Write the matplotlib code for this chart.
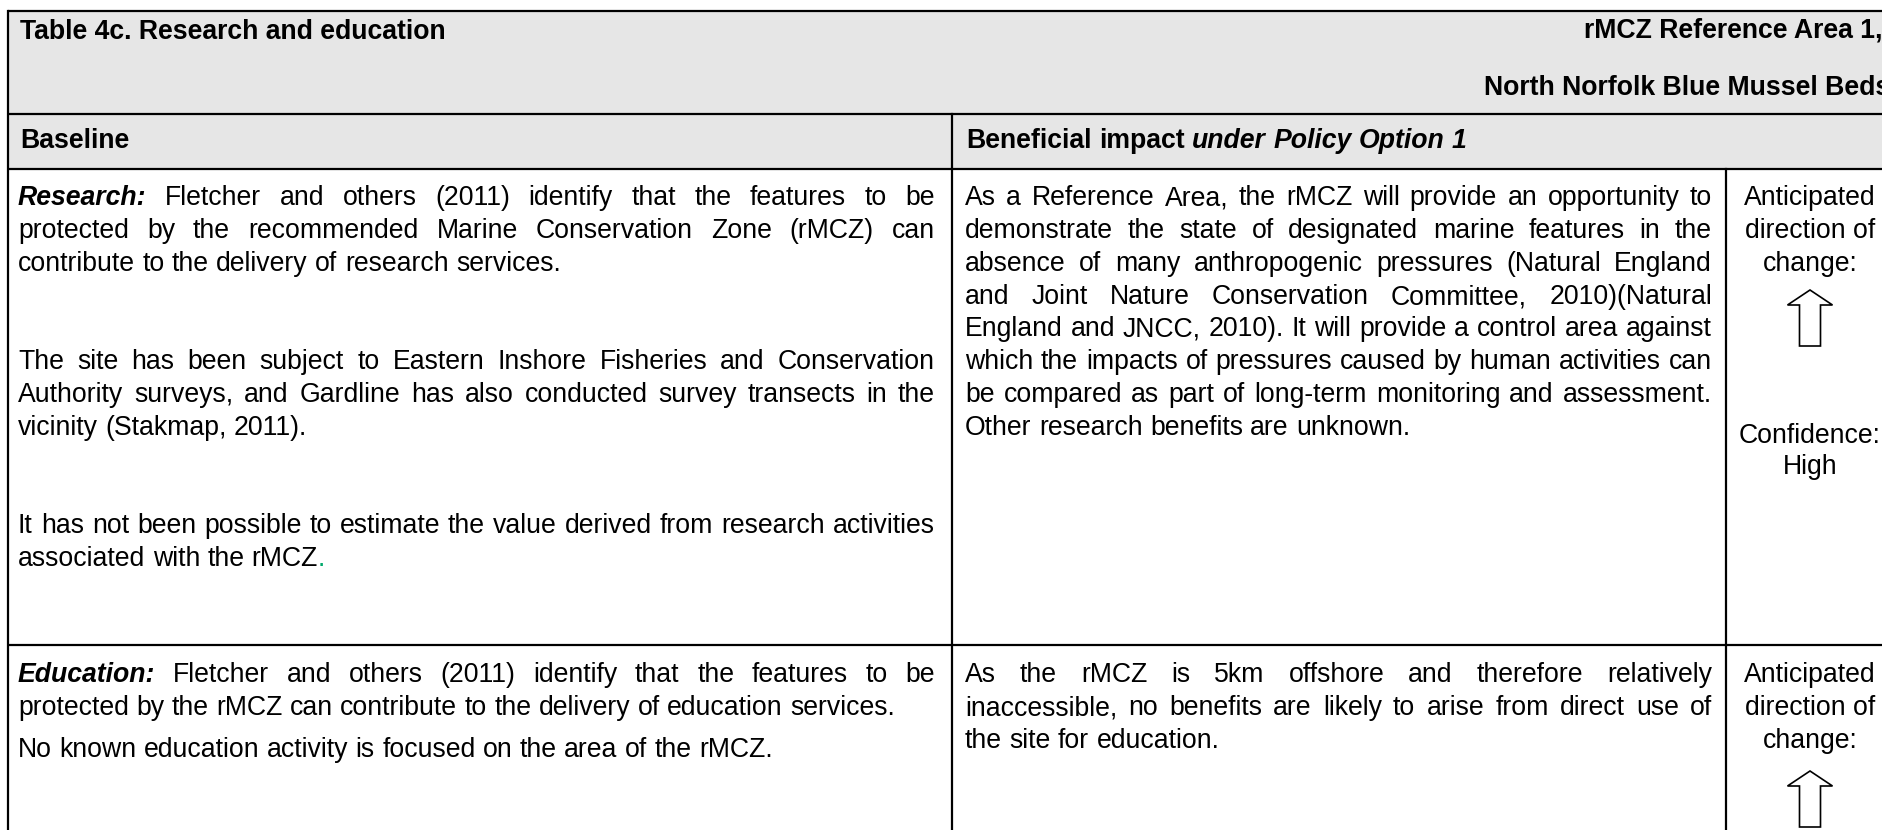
#!/usr/bin/env python3
"""
Table 4c redraw - Research and education, rMCZ Reference Area 1
Plain matplotlib: cell borders, grey header band and justified text lines.
"""

import matplotlib
matplotlib.use("Agg")
import matplotlib.pyplot as plt
from matplotlib.patches import Rectangle, Polygon

W, H = 1883, 830
FONT = ["Liberation Sans", "DejaVu Sans"]
SIZE = 19.2
BASE = 9          # baseline sits this far below the line centre (px)
GREY = "#e6e6e6"
GREEN = "#00a86b"


def R(s):
    return [(s, "r")]


# ---- header texts ----
TITLE = "Table 4c. Research and education"
SITE = ["rMCZ Reference Area 1,", "North Norfolk Blue Mussel Beds"]
HEAD_BASELINE = [("Baseline", "b")]
HEAD_IMPACT = [("Beneficial impact", "b"), (" under Policy Option 1", "bi")]

# ---- body: (segments, justified) ----
RESEARCH_BASELINE = [
    ([("Research:", "bi"), (" Fletcher and others (2011) identify that the features to be", "r")], True),
    (R("protected by the recommended Marine Conservation Zone (rMCZ) can"), True),
    (R("contribute to the delivery of research services."), False),
    (R("The site has been subject to Eastern Inshore Fisheries and Conservation"), True),
    (R("Authority surveys, and Gardline has also conducted survey transects in the"), True),
    (R("vicinity (Stakmap, 2011)."), False),
    (R("It has not been possible to estimate the value derived from research activities"), True),
    ([("associated with the rMCZ", "r"), (".", "g")], False),
]
RESEARCH_BASELINE_Y = [196, 229, 262, 360, 393, 426, 524, 557]

RESEARCH_IMPACT = [
    (R("As a Reference Area, the rMCZ will provide an opportunity to"), True),
    (R("demonstrate the state of designated marine features in the"), True),
    (R("absence of many anthropogenic pressures (Natural England"), True),
    (R("and Joint Nature Conservation Committee, 2010)(Natural"), True),
    (R("England and JNCC, 2010). It will provide a control area against"), True),
    (R("which the impacts of pressures caused by human activities can"), True),
    (R("be compared as part of long-term monitoring and assessment."), True),
    (R("Other research benefits are unknown."), False),
]
RESEARCH_IMPACT_Y = [196, 229, 262, 295, 327, 360, 393, 426]

EDUCATION_BASELINE = [
    ([("Education:", "bi"), (" Fletcher and others (2011) identify that the features to be", "r")], True),
    (R("protected by the rMCZ can contribute to the delivery of education services."), False),
    (R("No known education activity is focused on the area of the rMCZ."), False),
]
EDUCATION_BASELINE_Y = [673, 706, 748]

EDUCATION_IMPACT = [
    (R("As the rMCZ is 5km offshore and therefore relatively"), True),
    (R("inaccessible, no benefits are likely to arise from direct use of"), True),
    (R("the site for education."), False),
]
EDUCATION_IMPACT_Y = [673, 706, 739]

# right-hand column: direction and confidence
RESEARCH_DIR = ["Anticipated", "direction of", "change:", "Confidence:", "High"]
RESEARCH_DIR_Y = [196, 229, 262, 434, 465]
EDUCATION_DIR = ["Anticipated", "direction of", "change:"]
EDUCATION_DIR_Y = [673, 706, 739]
ARROW_TOPS = [290, 771]

STYLES = {
    "r": dict(fontweight="normal", fontstyle="normal", color="black"),
    "b": dict(fontweight="bold", fontstyle="normal", color="black"),
    "bi": dict(fontweight="bold", fontstyle="italic", color="black"),
    "g": dict(fontweight="normal", fontstyle="normal", color=GREEN),
}


def split_words(segments):
    """Break styled segments into words; a word can hold several styled pieces"""
    words = [[]]
    for txt, sty in segments:
        parts = txt.split(" ")
        for i, p in enumerate(parts):
            if i > 0:
                words.append([])
            if p:
                words[-1].append((p, sty))
    return [w for w in words if w]


def text_width(ax, renderer, s, sty="r"):
    t = ax.text(0, 0, s, fontsize=SIZE, family=FONT, **STYLES[sty])
    w = t.get_window_extent(renderer).width
    t.remove()
    return w


def put_line(ax, renderer, segments, x0, yc, width=None, space=8.0):
    """Place one line word by word, spreading the gaps when justified"""
    placed = []
    total = 0
    for word in split_words(segments):
        items = []
        for piece, sty in word:
            t = ax.text(0, yc + BASE, piece, fontsize=SIZE, family=FONT,
                        ha="left", va="baseline", **STYLES[sty])
            pw = t.get_window_extent(renderer).width
            items.append((t, pw))
            total += pw
        placed.append(items)

    gap = space
    if width is not None and len(placed) > 1:
        gap = (width - total) / (len(placed) - 1)

    x = x0
    for items in placed:
        for t, pw in items:
            t.set_x(x)
            x += pw
        x += gap


def put_block(ax, renderer, lines, ys, x0, x1, space):
    for (segs, just), y in zip(lines, ys):
        put_line(ax, renderer, segs, x0, y, (x1 - x0) if just else None, space)


def block_arrow(ax, cx, top, height=56, head_w=45, shaft_w=21, head_h=15):
    pts = [
        (cx, top),
        (cx + head_w / 2, top + head_h),
        (cx + shaft_w / 2, top + head_h),
        (cx + shaft_w / 2, top + height),
        (cx - shaft_w / 2, top + height),
        (cx - shaft_w / 2, top + head_h),
        (cx - head_w / 2, top + head_h),
    ]
    ax.add_patch(Polygon(pts, closed=True, facecolor="white",
                         edgecolor="black", linewidth=1.2, zorder=3))


def main():
    fig = plt.figure(figsize=(W / 100, H / 100), dpi=100)
    ax = fig.add_axes([0, 0, 1, 1])
    ax.set_xlim(0, W)
    ax.set_ylim(H, 0)
    ax.axis("off")
    renderer = fig.canvas.get_renderer()

    left, col2, col3 = 8, 952, 1726
    top, head1, head2, row1 = 11, 114, 169, 645

    # grey header band
    ax.add_patch(Rectangle((left, top), W - left, head2 - top,
                           facecolor=GREY, edgecolor="none", zorder=0))

    # grid lines
    lw = 1.6
    for y in (top, head1, head2, row1):
        ax.plot([left, W], [y, y], color="black", lw=lw, solid_capstyle="butt")
    ax.plot([left, left], [top, H], color="black", lw=lw)
    ax.plot([col2, col2], [head1, H], color="black", lw=lw)
    ax.plot([col3, col3], [head2, H], color="black", lw=lw)

    space = text_width(ax, renderer, "a a") - text_width(ax, renderer, "aa")

    # headers
    ax.text(20, 30 + BASE, TITLE, fontsize=SIZE, family=FONT, fontweight="bold",
            ha="left", va="baseline")
    ax.text(1883, 29 + BASE, SITE[0], fontsize=SIZE, family=FONT, fontweight="bold",
            ha="right", va="baseline")
    ax.text(1890, 86 + BASE, SITE[1], fontsize=SIZE, family=FONT, fontweight="bold",
            ha="right", va="baseline")
    put_line(ax, renderer, HEAD_BASELINE, 20, 139, None, space)
    put_line(ax, renderer, HEAD_IMPACT, 966, 139, None, space)

    # body text
    put_block(ax, renderer, RESEARCH_BASELINE, RESEARCH_BASELINE_Y, 18, 935, space)
    put_block(ax, renderer, RESEARCH_IMPACT, RESEARCH_IMPACT_Y, 965, 1712, space)
    put_block(ax, renderer, EDUCATION_BASELINE, EDUCATION_BASELINE_Y, 18, 935, space)
    put_block(ax, renderer, EDUCATION_IMPACT, EDUCATION_IMPACT_Y, 965, 1712, space)

    cx = 1810
    for s, y in zip(RESEARCH_DIR, RESEARCH_DIR_Y):
        ax.text(cx, y + BASE, s, fontsize=SIZE, family=FONT, ha="center", va="baseline")
    for s, y in zip(EDUCATION_DIR, EDUCATION_DIR_Y):
        ax.text(cx, y + BASE, s, fontsize=SIZE, family=FONT, ha="center", va="baseline")
    for t in ARROW_TOPS:
        block_arrow(ax, cx, t)

    fig.savefig("out.png", dpi=100, facecolor="white")


if __name__ == "__main__":
    main()
